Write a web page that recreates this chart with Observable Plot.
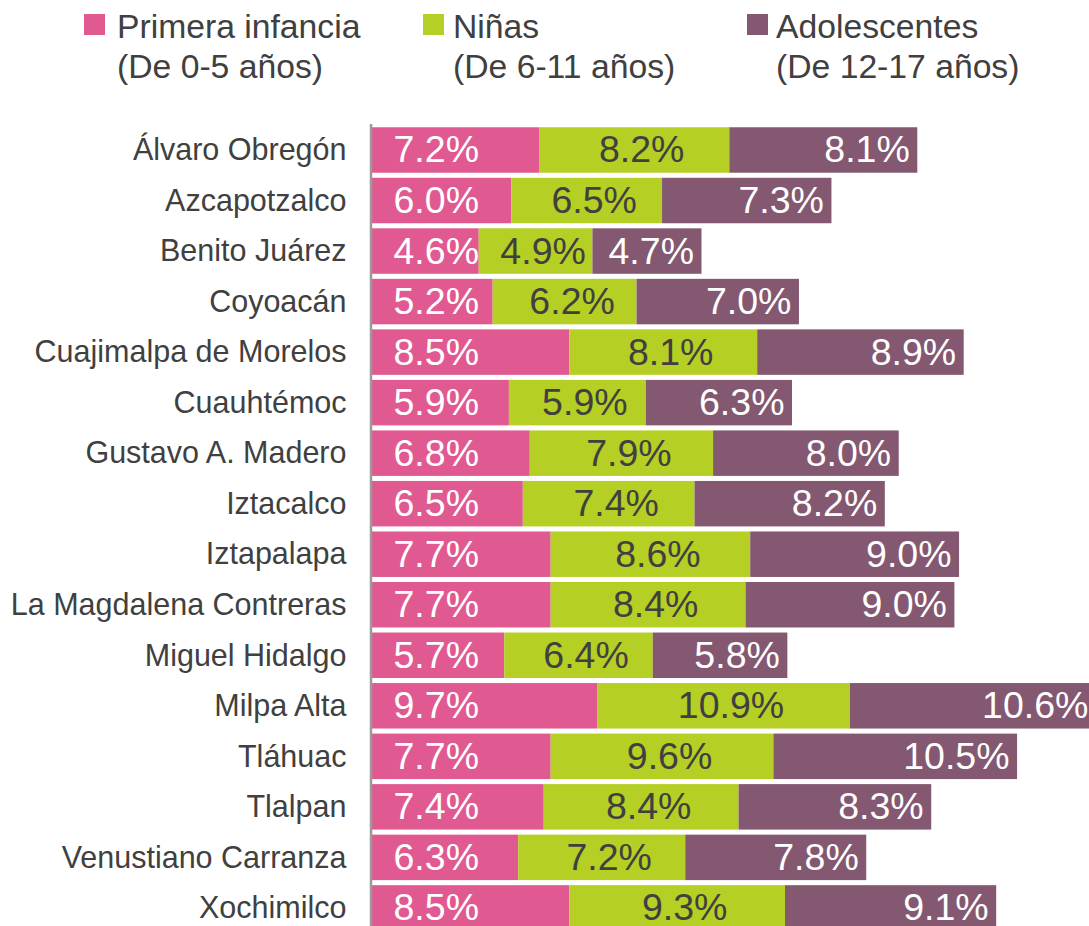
<!DOCTYPE html>
<html>
<head>
<meta charset="utf-8">
<script src="https://cdn.jsdelivr.net/npm/d3@7"></script>
<script src="https://cdn.jsdelivr.net/npm/@observablehq/plot@0.6"></script>
<style>
  html, body { margin: 0; padding: 0; background: #fff; overflow: hidden; }
  body { width: 1089px; height: 926px; font-family: "Liberation Sans", Arial, Helvetica, sans-serif; color: #404040; }
  #legend { position: relative; height: 110px; width: 1089px; }
  .sw { position: absolute; top: 14px; width: 21px; height: 21px; }
  .lt { position: absolute; top: 6px; font-size: 33.7px; line-height: 40px; white-space: nowrap; color: #404040; }
  #chart svg { display: block; }
</style>
</head>
<body>
<div id="legend"></div>
<div id="chart"></div>
<script>
const districts = ["Álvaro Obregón","Azcapotzalco","Benito Juárez","Coyoacán","Cuajimalpa de Morelos","Cuauhtémoc","Gustavo A. Madero","Iztacalco","Iztapalapa","La Magdalena Contreras","Miguel Hidalgo","Milpa Alta","Tláhuac","Tlalpan","Venustiano Carranza","Xochimilco"];
const primeraInfancia = [7.2,6.0,4.6,5.2,8.5,5.9,6.8,6.5,7.7,7.7,5.7,9.7,7.7,7.4,6.3,8.5];
const ninas = [8.2,6.5,4.9,6.2,8.1,5.9,7.9,7.4,8.6,8.4,6.4,10.9,9.6,8.4,7.2,9.3];
const adolescentes = [8.1,7.3,4.7,7.0,8.9,6.3,8.0,8.2,9.0,9.0,5.8,10.6,10.5,8.3,7.8,9.1];
const groups = ["Primera infancia","Niñas","Adolescentes"];
const groupSub = ["(De 0-5 años)","(De 6-11 años)","(De 12-17 años)"];
const colors = ["#e05a91","#b5cf24","#835870"];

// legend
const legendPos = [[84,117],[423,453],[747,776]];
const lg = document.getElementById("legend");
groups.forEach((g,i)=>{
  const s = document.createElement("div");
  s.className = "sw"; s.style.left = legendPos[i][0]+"px"; s.style.background = colors[i];
  lg.appendChild(s);
  const t = document.createElement("div");
  t.className = "lt"; t.style.left = legendPos[i][1]+"px";
  t.innerHTML = g + "<br>" + groupSub[i];
  lg.appendChild(t);
});

const rows = [];
districts.forEach((d,i)=>{
  rows.push({d, g: groups[0], v: primeraInfancia[i]});
  rows.push({d, g: groups[1], v: ninas[i]});
  rows.push({d, g: groups[2], v: adolescentes[i]});
});
const labelsP = districts.map((d,i)=>({d, x: 0, t: primeraInfancia[i].toFixed(1)+"%"}));
const labelsN = districts.map((d,i)=>({d, x: primeraInfancia[i] + ninas[i]/2, t: ninas[i].toFixed(1)+"%"}));
const labelsA = districts.map((d,i)=>({d, x: primeraInfancia[i] + ninas[i] + adolescentes[i], t: adolescentes[i].toFixed(1)+"%"}));

const chart = Plot.plot({
  width: 1089,
  height: 816,
  marginLeft: 372,
  marginRight: 0,
  marginTop: 14,
  marginBottom: 0,
  style: {fontFamily: '"Liberation Sans", Arial, Helvetica, sans-serif', fontSize: "30.5px", color: "#404040", background: "transparent", overflow: "hidden"},
  x: {domain: [0, 30.9], axis: null},
  y: {domain: districts, range: [12.2, 825.7], padding: 0.1, round: false, tickSize: 0, tickPadding: 26, label: null},
  color: {domain: groups, range: colors},
  marks: [
    Plot.barX(rows, {x: "v", y: "d", fill: "g", clip: true}),
    Plot.ruleX([0], {stroke: "#9a9a9a", strokeWidth: 2.5, dx: -1.5}),
    Plot.text(labelsP, {x: "x", y: "d", text: "t", textAnchor: "start", dx: 21, fill: "white", fontSize: 37.5}),
    Plot.text(labelsN, {x: "x", y: "d", text: "t", dx: 7, fill: "#404040", fontSize: 37.5}),
    Plot.text(labelsA, {x: "x", y: "d", text: "t", textAnchor: "end", dx: -8, fill: "white", fontSize: 37.5, clip: true})
  ]
});
document.getElementById("chart").appendChild(chart);
</script>
</body>
</html>
